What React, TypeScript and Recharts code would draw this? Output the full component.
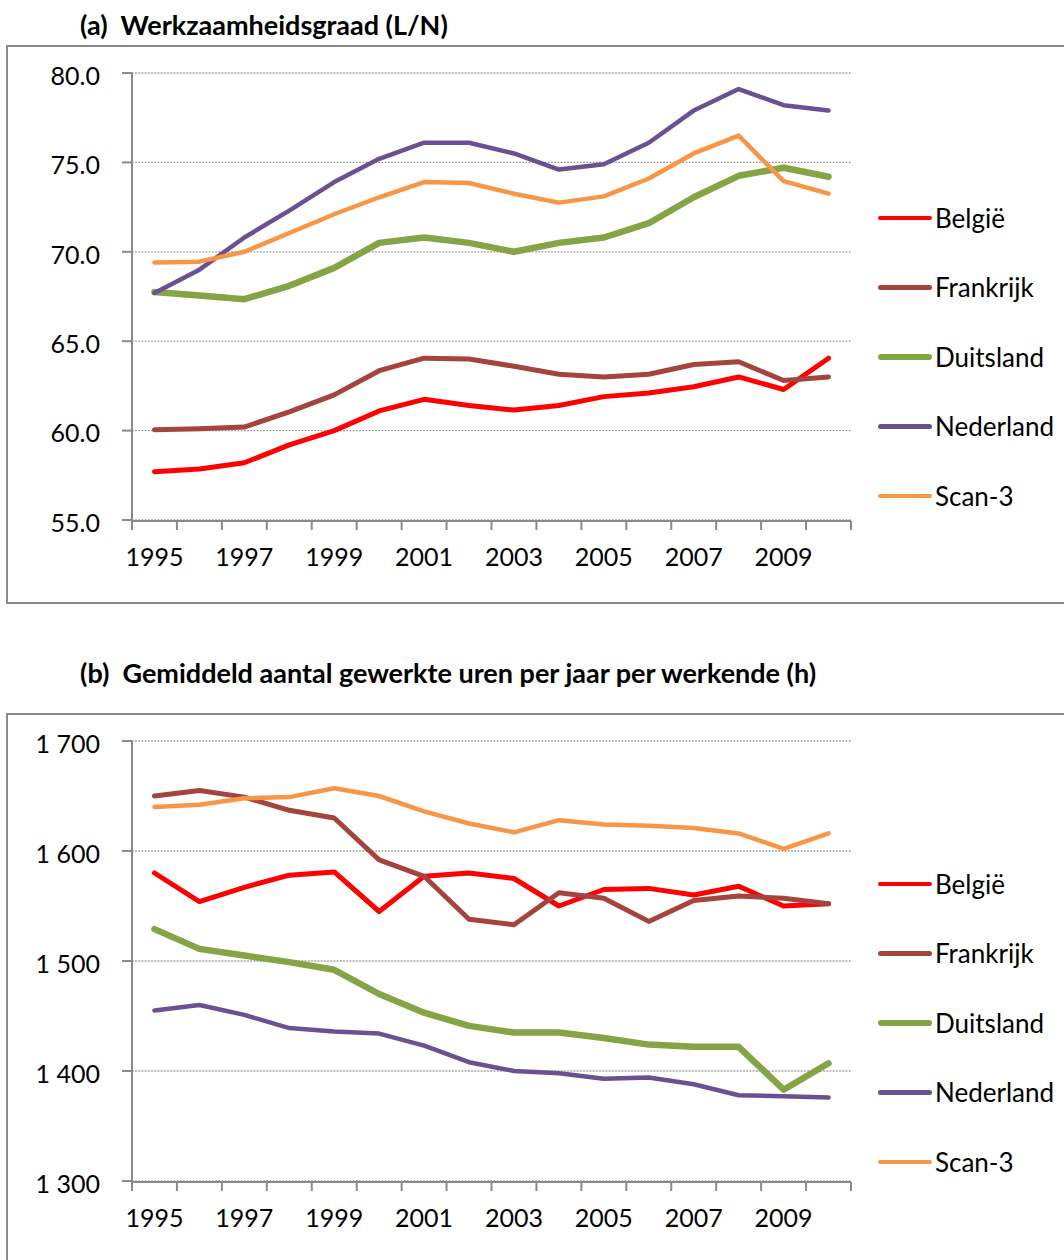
import { LineChart, Line, XAxis, YAxis, CartesianGrid } from "recharts";

const years = [1995, 1996, 1997, 1998, 1999, 2000, 2001, 2002, 2003, 2004, 2005, 2006, 2007, 2008, 2009, 2010];
const yearLabels = [1995, 1997, 1999, 2001, 2003, 2005, 2007, 2009];
// Excel-style tick marks sit between the categories
const yearBounds = [...years.map((y) => y - 0.5), years[years.length - 1] + 0.5];

const countries = ["België", "Frankrijk", "Duitsland", "Nederland", "Scan-3"];
const colors = ["#ff0000", "#a5443f", "#84a446", "#6a5192", "#f79646"];
const widths = [5, 5, 6.5, 4.5, 4.5];

// (a) Werkzaamheidsgraad (L/N)
const belgieRate = [57.7, 57.85, 58.2, 59.2, 60.0, 61.1, 61.75, 61.4, 61.15, 61.4, 61.9, 62.1, 62.45, 63.0, 62.3, 64.05];
const frankrijkRate = [60.05, 60.1, 60.2, 61.05, 62.0, 63.35, 64.05, 64.0, 63.6, 63.15, 63.0, 63.15, 63.7, 63.85, 62.8, 63.0];
const duitslandRate = [67.75, 67.55, 67.35, 68.1, 69.1, 70.5, 70.8, 70.5, 70.0, 70.5, 70.8, 71.6, 73.05, 74.25, 74.7, 74.2];
const nederlandRate = [67.7, 69.0, 70.8, 72.3, 73.9, 75.2, 76.1, 76.1, 75.5, 74.6, 74.9, 76.1, 77.9, 79.1, 78.2, 77.9];
const scanRate = [69.4, 69.45, 70.0, 71.05, 72.1, 73.05, 73.9, 73.85, 73.25, 72.75, 73.1, 74.1, 75.5, 76.5, 73.95, 73.25];
const rateTicks = [55, 60, 65, 70, 75, 80];

// (b) Gemiddeld aantal gewerkte uren per jaar per werkende (h)
const belgieHours = [1580, 1554, 1567, 1578, 1581, 1545, 1577, 1580, 1575, 1550, 1565, 1566, 1560, 1568, 1550, 1552];
const frankrijkHours = [1650, 1655, 1649, 1637, 1630, 1592, 1577, 1538, 1533, 1562, 1557, 1536, 1555, 1559, 1557, 1552];
const duitslandHours = [1529, 1511, 1505, 1499, 1492, 1470, 1453, 1441, 1435, 1435, 1430, 1424, 1422, 1422, 1383, 1407];
const nederlandHours = [1455, 1460, 1451, 1439, 1436, 1434, 1423, 1408, 1400, 1398, 1393, 1394, 1388, 1378, 1377, 1376];
const scanHours = [1640, 1642, 1648, 1649, 1657, 1650, 1636, 1625, 1617, 1628, 1624, 1623, 1621, 1616, 1602, 1616];
const hourTicks = [1300, 1400, 1500, 1600, 1700];

const FONT = "Lato, 'Open Sans', sans-serif";
const AXIS = "#8a8a8a";

const toRows = (series: number[][]) =>
  years.map((year, i) => {
    const row: Record<string, number> = { year };
    countries.forEach((c, k) => (row[c] = series[k][i]));
    return row;
  });

// tick marks only, no text
const NoLabel = () => <g />;

interface PanelProps {
  title: string;
  titleTop: number;
  top: number;
  chartHeight: number;
  boxHeight: number;
  marginBottom: number;
  series: number[][];
  ticks: number[];
  format: (v: number) => string;
  legendTop: number;
}

const Panel = ({ title, titleTop, top, chartHeight, boxHeight, marginBottom, series, ticks, format, legendTop }: PanelProps) => {
  const data = toRows(series);
  return (
    <>
      <div
        style={{
          position: "absolute",
          left: 80,
          top: titleTop,
          fontFamily: FONT,
          fontWeight: 700,
          fontSize: 27,
          lineHeight: "30px",
          whiteSpace: "pre",
          color: "#000",
        }}
      >
        {title}
      </div>
      <div
        style={{
          position: "absolute",
          left: 6,
          top,
          width: 1100,
          height: boxHeight,
          border: `2px solid ${AXIS}`,
          boxSizing: "border-box",
        }}
      />
      <div style={{ position: "absolute", left: 0, top }}>
        <LineChart
          width={1064}
          height={chartHeight}
          data={data}
          margin={{ top: 28, right: 213, bottom: marginBottom, left: 0 }}
        >
          <CartesianGrid
            xAxisId="labels"
            vertical={false}
            stroke="#8f8f8f"
            strokeWidth={1.3}
            strokeDasharray="1.6 1.6"
          />
          <XAxis
            xAxisId="labels"
            type="number"
            dataKey="year"
            domain={[yearBounds[0], yearBounds[yearBounds.length - 1]]}
            ticks={yearLabels}
            axisLine={false}
            tickLine={false}
            tickSize={0}
            tickMargin={28}
            height={1}
            interval={0}
            tick={{ fill: "#000", fontSize: 25, fontFamily: FONT }}
          />
          <XAxis
            xAxisId="marks"
            type="number"
            dataKey="year"
            domain={[yearBounds[0], yearBounds[yearBounds.length - 1]]}
            ticks={yearBounds}
            interval={0}
            tick={NoLabel}
            tickSize={9}
            height={49}
            stroke={AXIS}
            strokeWidth={2}
          />
          <YAxis
            type="number"
            domain={[ticks[0], ticks[ticks.length - 1]]}
            ticks={ticks}
            width={132}
            tickSize={10}
            tickMargin={22}
            interval={0}
            stroke={AXIS}
            strokeWidth={2}
            tickFormatter={format}
            tick={{ fill: "#000", fontSize: 25, fontFamily: FONT, dy: 3 }}
          />
          {countries.map((c, k) => (
            <Line
              key={c}
              xAxisId="labels"
              dataKey={c}
              stroke={colors[k]}
              strokeWidth={widths[k]}
              strokeLinecap="round"
              strokeLinejoin="round"
              dot={false}
              activeDot={false}
              isAnimationActive={false}
            />
          ))}
        </LineChart>
      </div>
      <div style={{ position: "absolute", left: 878, top: legendTop, fontFamily: FONT }}>
        {countries.map((c, k) => (
          <div key={c} style={{ display: "flex", alignItems: "center", height: 69.5 }}>
            <div
              style={{
                width: 54,
                height: k === 2 ? 5.5 : 4.5,
                borderRadius: 3,
                background: colors[k],
              }}
            />
            <span style={{ fontSize: 26, marginLeft: 3, color: "#000" }}>{c}</span>
          </div>
        ))}
      </div>
    </>
  );
};

const App = () => (
  <div
    style={{
      position: "absolute",
      left: 0,
      top: 0,
      width: 1064,
      height: 1260,
      overflow: "hidden",
      background: "#fff",
    }}
  >
    <Panel
      title="(a)  Werkzaamheidsgraad (L/N)"
      titleTop={10}
      top={45}
      chartHeight={559}
      boxHeight={559}
      marginBottom={34}
      series={[belgieRate, frankrijkRate, duitslandRate, nederlandRate, scanRate]}
      ticks={rateTicks}
      format={(v) => v.toFixed(1)}
      legendTop={183}
    />
    <Panel
      title="(b)  Gemiddeld aantal gewerkte uren per jaar per werkende (h)"
      titleTop={658}
      top={713}
      chartHeight={547}
      boxHeight={600}
      marginBottom={29}
      series={[belgieHours, frankrijkHours, duitslandHours, nederlandHours, scanHours]}
      ticks={hourTicks}
      format={(v) => `${Math.floor(v / 1000)} ${String(v % 1000).padStart(3, "0")}`}
      legendTop={849}
    />
  </div>
);

export default App;
